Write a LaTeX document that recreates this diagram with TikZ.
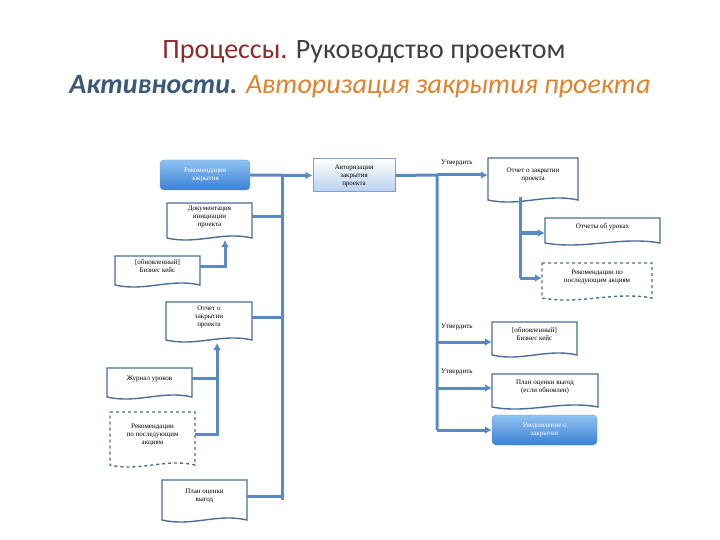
\documentclass[tikz,border=0pt]{standalone}
\usepackage{fontspec}
\setmainfont{Liberation Serif}
\newfontfamily\titlefont{Carlito}
\usetikzlibrary{calc,arrows.meta}
\definecolor{ln}{HTML}{5A8AC6}
\definecolor{bx}{HTML}{4A6E9A}
\definecolor{tred}{HTML}{8B2B2B}
\definecolor{tblue}{HTML}{3A5878}
\definecolor{torange}{HTML}{E0822A}
\definecolor{tgray}{HTML}{404040}
\definecolor{blueA}{HTML}{8FC3F2}
\definecolor{blueB}{HTML}{3C80D4}
\definecolor{blueC}{HTML}{6A9AD0}
\definecolor{authB}{HTML}{B8D0EE}
\definecolor{authC}{HTML}{7FA0C8}
\tikzset{
  conn/.style={draw=ln,line width=3pt},
  arr/.style={conn,-{Latex[length=7pt,width=8pt]}},
  docnode/.style={draw=none,align=center,font=\fontsize{7}{8}\selectfont,inner sep=1pt},
  docline/.style={draw=bx,line width=1.4pt,fill=white},
  dashline/.style={docline,dashed},
  bluebox/.style={rounded corners=4pt,top color=blueA,bottom color=blueB,draw=blueC,text=white,align=center,font=\fontsize{7}{8}\selectfont},
  authbox/.style={top color=white,bottom color=authB,draw=authC,line width=1pt,align=center,font=\fontsize{7}{8}\selectfont},
  lbl/.style={font=\fontsize{7}{8}\selectfont,inner sep=1pt}
}
% name, x1, y1, x2, y2, text, line style
\newcommand\docbox[7]{%
  \path[#7] (#2,#3) -- (#4,#3) -- (#4,#5) .. controls ($(#4,#5)!0.35!(#2,#5)+(0,-7)$) and ($(#4,#5)!0.65!(#2,#5)+(0,7)$) .. (#2,#5) -- cycle;
  \node[docnode,minimum width={#4-#2},minimum height={#5-#3-8}] (#1) at ($(#2,#3)!0.5!(#4,#5)+(0,-4)$) {#6};}
\begin{document}
\begin{tikzpicture}[x=1pt,y=-1pt]
\useasboundingbox (0,0) rectangle (720,540);
% title
\node[font=\titlefont\fontsize{28}{32}\selectfont] (t1) at (364,52) {\textcolor{tred}{Процессы.} \textcolor{tgray}{Руководство проектом}};
\node[font=\titlefont\fontsize{28}{32}\selectfont\itshape] (t2) at (360,87) {\textcolor{tblue}{\bfseries Активности.} \textcolor{torange}{Авторизация закрытия проекта}};
% left column
\node[bluebox,minimum width=90,minimum height=30] (rec) at (205,175) {Рекомендация\\закрытия};
\node[authbox,minimum width=82,minimum height=33] (auth) at (354,175.5) {Авторизация\\закрытия\\проекта};
\docbox{pid}{167}{203}{252}{238}{Документация\\инициации\\проекта}{docline}
\docbox{bc}{115}{256}{200}{285}{[обновленный]\\Бизнес кейс}{docline}
\docbox{epr}{166}{302}{252}{340}{Отчет о\\закрытии\\проекта}{docline}
\docbox{ll}{107}{368}{192}{397}{Журнал уроков}{docline}
\docbox{far}{110}{412}{195}{465}{Рекомендации\\по последующим\\акциям}{dashline}
\docbox{bp}{162}{480}{247}{520}{План оценки\\выгод}{docline}
\coordinate (b1) at (282,175);
\coordinate (b2) at (282,500);
\draw[conn] (b1) -- (b2);
\draw[arr] (rec.east) -- (auth.west);
\draw[conn] (pid.east) -- (pid.east -| b1);
\draw[conn] (epr.east) -- (epr.east -| b1);
\draw[conn] (bp.east) -- (bp.east -| b1);
\coordinate (pidin) at (225,240);
\coordinate (eprin) at (217,343);
\draw[arr] (bc.east) -| (pidin);
\draw[arr] (far.east) -| (eprin);
\draw[conn] (ll.east) -- (ll.east -| eprin);
% right
\docbox{eprr}{488}{158}{578}{200}{Отчет о закрытии\\проекта}{docline}
\docbox{lr}{545}{218}{660}{243}{Отчеты об уроках}{docline}
\docbox{farr}{542}{263}{652}{298}{Рекомендации по\\последующим акциям}{dashline}
\docbox{bcr}{492}{322}{577}{355}{[обновленный]\\Бизнес кейс}{docline}
\docbox{bpr}{492}{374}{598}{407}{План оценки выгод\\(если обновлен)}{docline}
\node[bluebox,minimum width=105,minimum height=30] (note) at (544.5,430) {Уведомление о\\закрытии};
\coordinate (c1) at (437,175);
\coordinate (c2) at (437,430);
\coordinate (j2) at (437,342);
\coordinate (j3) at (437,388);
\draw[conn] (auth.east) -- (c1) -- (c2);
\draw[arr] (c1) -- (c1 -| eprr.west);
\draw[arr] (j2) -- (j2 -| bcr.west);
\draw[arr] (j3) -- (j3 -| bpr.west);
\draw[arr] (c2) -- (note.west);
\coordinate (d1) at (520,197);
\coordinate (d2) at (520,233);
\coordinate (d3) at (520,278);
\draw[conn] (d1) -- (d3);
\draw[arr] (d2) -- (d2 -| lr.west);
\draw[arr] (d3) -- (d3 -| farr.west);
\node[lbl,anchor=west] (u1) at (440,163) {Утвердить};
\node[lbl,anchor=west] (u2) at (440,327) {Утвердить};
\node[lbl,anchor=west] (u3) at (440,372) {Утвердить};
\end{tikzpicture}
\end{document}
